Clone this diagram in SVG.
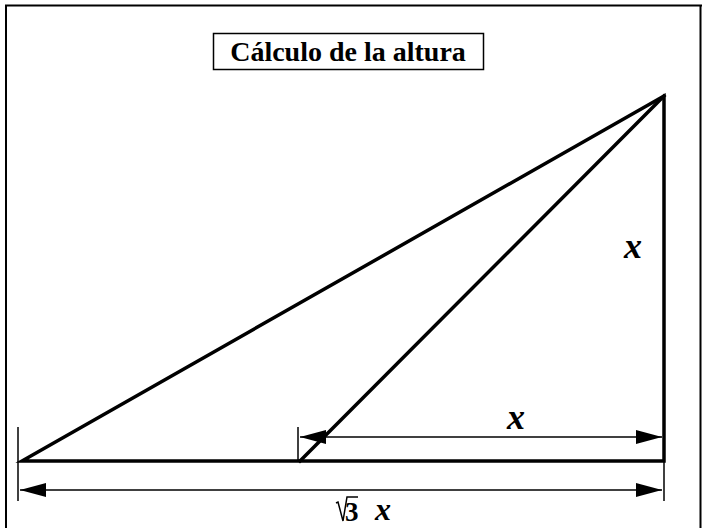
<svg xmlns="http://www.w3.org/2000/svg" width="702" height="528" viewBox="0 0 702 528">
<style>
.thick{stroke:#000;stroke-width:3.5;fill:none;stroke-linecap:square}
.thin{stroke:#000;stroke-width:1.5;fill:none}
.frame{stroke:#000;stroke-width:2;fill:none}
.lbl{font-family:"Liberation Serif",serif;font-weight:bold;font-style:italic;font-size:36px;fill:#000}
.title{font-family:"Liberation Serif",serif;font-weight:bold;font-size:28px;fill:#000}
</style>
<defs>
<marker id="ah" viewBox="0 0 26 14" refX="26" refY="7" markerWidth="26" markerHeight="14" markerUnits="userSpaceOnUse" orient="auto-start-reverse">
<path d="M0,0 L26,7 L0,14 Z" fill="#000"/>
</marker>
</defs>
<rect width="702" height="528" fill="#fff"/>
<path class="frame" d="M6,528 V5.5 H702"/>
<line class="frame" x1="700.5" y1="5" x2="700.5" y2="528"/>
<g id="title">
<rect x="213.5" y="33.5" width="270" height="36" fill="#fff" stroke="#000" stroke-width="1.5"/>
<text class="title" x="348" y="61" text-anchor="middle">Cálculo de la altura</text>
</g>
<g id="triangle">
<path class="thick" d="M22,461 L664,96 L664,461 Z" stroke-linejoin="miter"/>
<line class="thick" x1="300" y1="461" x2="664" y2="96"/>
</g>
<g id="connectors">
<line class="thin" x1="298" y1="427" x2="298" y2="461"/>
<line class="thin" x1="18" y1="427" x2="18" y2="501"/>
<line class="thin" x1="664" y1="461" x2="664" y2="501"/>
<line class="thin" x1="300" y1="437" x2="662" y2="437" marker-start="url(#ah)" marker-end="url(#ah)"/>
<line class="thin" x1="20" y1="490" x2="662" y2="490" marker-start="url(#ah)" marker-end="url(#ah)"/>
</g>
<g id="labels">
<text class="lbl" x="516" y="429" text-anchor="middle">x</text>
<text class="lbl" x="633" y="258" text-anchor="middle">x</text>
<g id="sqrt3x">
<path d="M336,503 L338,502 L343,521 L347,497 L358,497" fill="none" stroke="#000" stroke-width="1.5"/>
<text x="345" y="521" font-family="'Liberation Serif',serif" font-weight="bold" font-size="27">3</text>
<text x="383" y="520" text-anchor="middle" font-family="'Liberation Serif',serif" font-weight="bold" font-style="italic" font-size="32">x</text>
</g>
</g>
</svg>
